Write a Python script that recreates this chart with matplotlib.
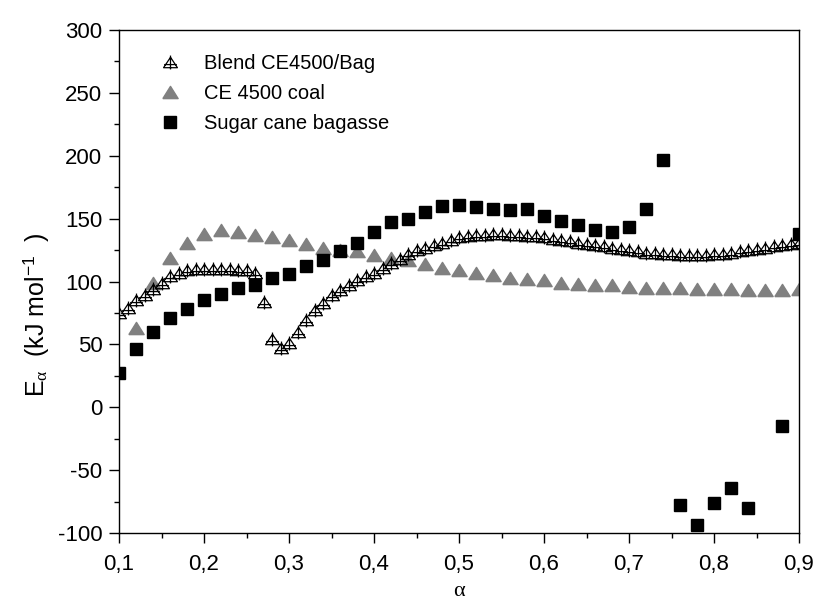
import numpy as np
import matplotlib
matplotlib.use("Agg")
import matplotlib.pyplot as plt
from matplotlib.lines import Line2D
from matplotlib.path import Path
from matplotlib.ticker import MultipleLocator, FuncFormatter

# Blend CE4500/Bag, alpha = 0.10 ... 0.90 step 0.01
blend_alpha = np.round(np.arange(0.10, 0.905, 0.01), 2)
blend_E = [75, 79, 85, 89, 94, 99, 104, 107, 109, 110,
           110, 110, 110, 110, 109, 109, 107, 84, 54, 47,
           51, 60, 69, 77, 83, 89, 93, 97, 101, 104,
           107, 111, 115, 118, 122, 125, 127, 129, 131, 133,
           135, 136, 137, 137, 138, 138, 137, 137, 136, 136,
           135, 134, 133, 132, 131, 130, 129, 128, 127, 126,
           125, 124, 123, 123, 122, 122, 121, 121, 121, 121,
           122, 122, 123, 124, 125, 126, 127, 128, 129, 130,
           131]

# CE 4500 coal, alpha = 0.12 ... 0.90 step 0.02
coal_alpha = np.round(np.arange(0.12, 0.905, 0.02), 2)
coal_E = [63, 99, 119, 131, 138, 141, 139, 137, 135, 133,
          130, 127, 125, 124, 121, 119, 117, 114, 111, 109,
          107, 105, 103, 102, 101, 99, 98, 97, 97, 96,
          95, 95, 95, 94, 94, 94, 93, 93, 93, 94]

# Sugar cane bagasse
bag_alpha = [0.10, 0.12, 0.14, 0.16, 0.18, 0.20, 0.22, 0.24, 0.26, 0.28,
             0.30, 0.32, 0.34, 0.36, 0.38, 0.40, 0.42, 0.44, 0.46, 0.48,
             0.50, 0.52, 0.54, 0.56, 0.58, 0.60, 0.62, 0.64, 0.66, 0.68,
             0.70, 0.72, 0.74, 0.76, 0.78, 0.80, 0.82, 0.84, 0.88, 0.90]
bag_E = [27, 46, 60, 71, 78, 85, 90, 95, 97, 103,
         106, 112, 117, 124, 131, 139, 147, 150, 155, 160,
         161, 159, 158, 157, 158, 152, 148, 145, 141, 139,
         143, 158, 197, -78, -94, -76, -64, -80, -15, 138]

labels = ["Blend CE4500/Bag", "CE 4500 coal", "Sugar cane bagasse"]

plt.rcParams['font.family'] = ['Liberation Sans', 'DejaVu Sans']
plt.rcParams['axes.unicode_minus'] = False
plt.rcParams['mathtext.fontset'] = 'custom'
plt.rcParams['mathtext.rm'] = 'Liberation Sans'
plt.rcParams['mathtext.it'] = 'Liberation Serif'
fs = 14.5

# triangle with a cross through it
tri_cross = Path(
    [(-1, -0.75), (1, -0.75), (0, 0.75), (-1, -0.75),
     (0, 1.0), (0, -1.0),
     (-0.9, -0.3), (0.9, -0.3)],
    [Path.MOVETO, Path.LINETO, Path.LINETO, Path.CLOSEPOLY,
     Path.MOVETO, Path.LINETO,
     Path.MOVETO, Path.LINETO])
wide_tri = [(-1, -0.8), (1, -0.8), (0, 0.8), (-1, -0.8)]

fig = plt.figure(figsize=(8.18, 6.05), dpi=100)
ax = fig.add_axes([119/818, 1 - 533/605, 680/818, 503/605])

ax.plot(coal_alpha, coal_E, ls='none', marker=wide_tri, ms=11,
        color='#808080', mec='#808080', zorder=2)
ax.plot(bag_alpha, bag_E, ls='none', marker='s', ms=8.6,
        color='black', zorder=3)
ax.plot(blend_alpha, blend_E, ls='none', marker=tri_cross,
        ms=10, mfc='none', mec='black', mew=0.9, zorder=4)

ax.set_xlim(0.1, 0.9)
ax.set_ylim(-100, 300)
ax.xaxis.set_major_locator(MultipleLocator(0.1))
ax.xaxis.set_minor_locator(MultipleLocator(0.05))
ax.yaxis.set_major_locator(MultipleLocator(50))
ax.yaxis.set_minor_locator(MultipleLocator(25))
ax.xaxis.set_major_formatter(FuncFormatter(lambda v, p: f"{v:.1f}".replace('.', ',')))
ax.tick_params(which='major', direction='out', length=7, width=1,
               labelsize=16, top=False, right=False)
ax.tick_params(axis='x', which='major', pad=8)
ax.tick_params(axis='y', which='major', pad=5)
ax.tick_params(which='minor', direction='out', length=3.5, width=1,
               top=False, right=False)
for s in ax.spines.values():
    s.set_linewidth(1)

ax.set_xlabel("α", family='Liberation Serif', fontsize=16, labelpad=5)
ax.set_ylabel(r"E$_{\alpha}$  (kJ mol$^{-1}$  )", fontsize=18)
ax.yaxis.set_label_coords(-0.10, 0.435)

handles = [
    Line2D([], [], ls='none', marker=tri_cross, ms=10, mfc='none',
           mec='black', mew=0.9),
    Line2D([], [], ls='none', marker=wide_tri, ms=11, color='#808080'),
    Line2D([], [], ls='none', marker='s', ms=8.6, color='black'),
]
ax.legend(handles, labels, loc='upper left', bbox_to_anchor=(0.041, 0.968),
          borderaxespad=0, frameon=False, fontsize=fs, handlelength=1.5,
          handletextpad=0.95, labelspacing=0.55)

fig.savefig("out.png", dpi=100)
